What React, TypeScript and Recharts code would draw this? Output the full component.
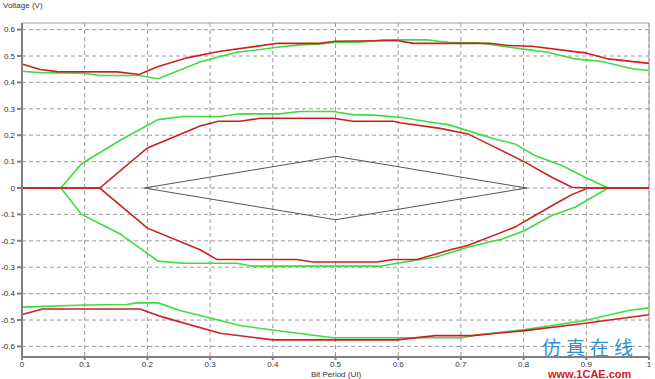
import React from 'react';
import { LineChart, Line, XAxis, YAxis, CartesianGrid, ReferenceLine } from 'recharts';

// [bit period (UI), voltage (V)] pairs
type Pt = [number, number];

const xTicks = [0, 0.1, 0.2, 0.3, 0.4, 0.5, 0.6, 0.7, 0.8, 0.9, 1];
const yTicks = [-0.6, -0.5, -0.4, -0.3, -0.2, -0.1, 0, 0.1, 0.2, 0.3, 0.4, 0.5, 0.6];

const greenUpperOuter: Pt[] = [
  [0, 0.442], [0.029, 0.437], [0.097, 0.435], [0.124, 0.426], [0.187, 0.426], [0.217, 0.414],
  [0.284, 0.477], [0.316, 0.498], [0.343, 0.514], [0.407, 0.533], [0.443, 0.542], [0.475, 0.546],
  [0.502, 0.552], [0.539, 0.552], [0.576, 0.561], [0.646, 0.561], [0.679, 0.552], [0.727, 0.55],
  [0.797, 0.527], [0.839, 0.514], [0.882, 0.489], [0.925, 0.479], [0.973, 0.452], [1, 0.445],
];
const redUpperOuter: Pt[] = [
  [0, 0.47], [0.029, 0.449], [0.056, 0.441], [0.152, 0.44], [0.187, 0.43], [0.215, 0.458],
  [0.263, 0.493], [0.316, 0.518], [0.408, 0.548], [0.475, 0.548], [0.499, 0.556], [0.598, 0.559],
  [0.624, 0.548], [0.746, 0.548], [0.775, 0.54], [0.813, 0.537], [0.898, 0.512], [0.935, 0.489],
  [1, 0.472],
];
const greenInnerTop: Pt[] = [
  [0.062, 0], [0.095, 0.092], [0.156, 0.18], [0.217, 0.259], [0.257, 0.271], [0.316, 0.271],
  [0.348, 0.281], [0.411, 0.281], [0.443, 0.29], [0.496, 0.29], [0.528, 0.278], [0.56, 0.276],
  [0.603, 0.268], [0.66, 0.246], [0.68, 0.24], [0.754, 0.186], [0.786, 0.167], [0.818, 0.123],
  [0.861, 0.085], [0.898, 0.041], [0.935, 0],
];
const greenInnerBottom: Pt[] = [
  [0.062, 0], [0.095, -0.1], [0.156, -0.173], [0.217, -0.277], [0.257, -0.285], [0.343, -0.285],
  [0.368, -0.296], [0.571, -0.296], [0.598, -0.285], [0.624, -0.275], [0.659, -0.262],
  [0.711, -0.224], [0.766, -0.193], [0.802, -0.161], [0.845, -0.104], [0.882, -0.073], [0.935, 0],
];
const redInnerTop: Pt[] = [
  [0, 0], [0.124, 0], [0.2, 0.152], [0.284, 0.235], [0.313, 0.253], [0.348, 0.253], [0.38, 0.264],
  [0.496, 0.264], [0.528, 0.253], [0.592, 0.253], [0.603, 0.247], [0.667, 0.226], [0.711, 0.205],
  [0.754, 0.155], [0.802, 0.098], [0.845, 0.041], [0.877, 0.003], [0.903, 0], [1, 0],
];
const redInnerBottom: Pt[] = [
  [0, 0], [0.124, 0], [0.2, -0.152], [0.284, -0.234], [0.311, -0.271], [0.438, -0.271],
  [0.464, -0.28], [0.566, -0.28], [0.592, -0.271], [0.63, -0.271], [0.683, -0.234], [0.711, -0.218],
  [0.786, -0.148], [0.818, -0.104], [0.855, -0.054], [0.877, -0.025], [0.903, 0], [1, 0],
];
const greenLowerOuter: Pt[] = [
  [0, -0.451], [0.1, -0.443], [0.167, -0.441], [0.183, -0.435], [0.217, -0.435], [0.252, -0.464],
  [0.316, -0.502], [0.348, -0.521], [0.396, -0.537], [0.496, -0.567], [0.702, -0.567],
  [0.718, -0.559], [0.802, -0.536], [0.898, -0.502], [0.967, -0.464], [1, -0.454],
];
const redLowerOuter: Pt[] = [
  [0, -0.479], [0.033, -0.458], [0.188, -0.458], [0.225, -0.489], [0.316, -0.55], [0.4, -0.575],
  [0.598, -0.575], [0.659, -0.559], [0.718, -0.559], [0.802, -0.54], [0.898, -0.512], [1, -0.48],
];
// eye mask (closed diamond)
const eyeMask: Pt[] = [[0.195, 0], [0.5, 0.12], [0.805, 0], [0.5, -0.12], [0.195, 0]];

const GREEN = '#3fdc3f';
const RED = '#cc2020';

const series = [
  { id: 'mask', pts: eyeMask, color: '#555555', width: 1 },
  { id: 'gUpper', pts: greenUpperOuter, color: GREEN, width: 1.6 },
  { id: 'gInTop', pts: greenInnerTop, color: GREEN, width: 1.6 },
  { id: 'gInBot', pts: greenInnerBottom, color: GREEN, width: 1.6 },
  { id: 'gLower', pts: greenLowerOuter, color: GREEN, width: 1.6 },
  { id: 'rUpper', pts: redUpperOuter, color: RED, width: 1.6 },
  { id: 'rInTop', pts: redInnerTop, color: RED, width: 1.6 },
  { id: 'rInBot', pts: redInnerBottom, color: RED, width: 1.6 },
  { id: 'rLower', pts: redLowerOuter, color: RED, width: 1.6 },
];

const toRows = (pts: Pt[]) => pts.map(([x, v]) => ({ x, v }));

const fmt = (v: number) => String(Math.round(v * 10) / 10);
const tickStyle = { fontSize: 8, fill: '#333', fontFamily: 'Liberation Sans, Arial, sans-serif' };

export default function App() {
  return (
    <div style={{ position: 'absolute', left: 0, top: 0, width: 655, height: 379, background: '#fff', overflow: 'hidden' }}>
      <LineChart width={655} height={379} margin={{ top: 23, right: 6, bottom: 0, left: 0 }}>
        <CartesianGrid stroke="#9a9a9a" strokeDasharray="4 3" horizontalValues={yTicks} verticalValues={xTicks} />
        <XAxis
          dataKey="x"
          type="number"
          domain={[0, 1]}
          ticks={xTicks}
          tickFormatter={fmt}
          height={22}
          tickSize={3}
          tickMargin={1}
          tick={tickStyle}
          stroke="#808080"
          strokeWidth={2}
          allowDuplicatedCategory={false}
        />
        <YAxis
          type="number"
          domain={[-0.64, 0.625]}
          ticks={yTicks}
          tickFormatter={fmt}
          width={22}
          tickSize={5}
          tick={tickStyle}
          stroke="#808080"
          strokeWidth={2}
          allowDataOverflow
        />
        <ReferenceLine y={0.625} stroke="#a0a0a0" strokeWidth={1} />
        <ReferenceLine x={1} stroke="#a0a0a0" strokeWidth={1} />
        {series.map((s) => (
          <Line
            key={s.id}
            data={toRows(s.pts)}
            dataKey="v"
            type="linear"
            stroke={s.color}
            strokeWidth={s.width}
            dot={false}
            activeDot={false}
            isAnimationActive={false}
          />
        ))}
      </LineChart>
      <div style={{ position: 'absolute', left: 3, top: 1, fontSize: 8, color: '#333', fontFamily: 'Liberation Sans, Arial, sans-serif' }}>
        Voltage (V)
      </div>
      <div style={{ position: 'absolute', left: 0, width: 672, top: 370, textAlign: 'center', fontSize: 8, lineHeight: '9px', color: '#333', fontFamily: 'Liberation Sans, Arial, sans-serif' }}>
        Bit Period (UI)
      </div>
      <div style={{ position: 'absolute', left: 542, top: 337, fontSize: 19, letterSpacing: 5, color: '#2a8fd6', fontFamily: 'Noto Sans CJK SC, sans-serif', lineHeight: '19px' }}>
        仿真在线
      </div>
      <div style={{ position: 'absolute', left: 548, top: 369, fontSize: 11, fontWeight: 700, color: '#d42020', fontFamily: 'Liberation Sans, Arial, sans-serif', lineHeight: '10px' }}>
        www.1CAE.com
      </div>
    </div>
  );
}
